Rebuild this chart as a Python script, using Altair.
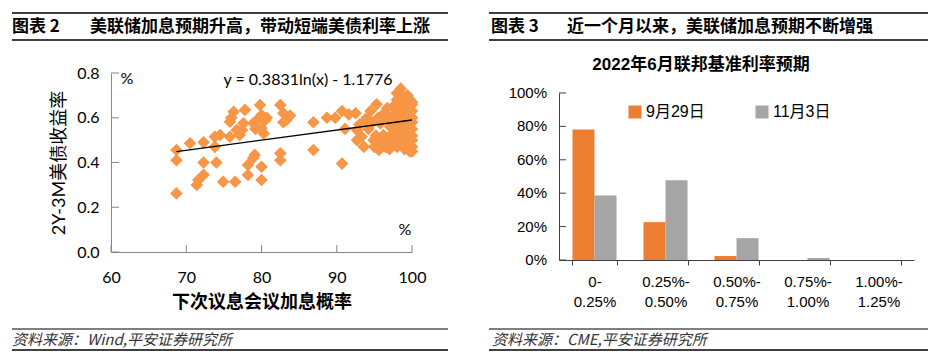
import altair as alt
import pandas as pd

# ---------------- data: left panel (scatter) ----------------
scatter_points = [
    (68.7, 0.456), (68.7, 0.41), (68.7, 0.262), (70.5, 0.486), (72.3, 0.49), (72.3, 0.40),
    (71.4, 0.30), (71.6, 0.322), (72.3, 0.345), (73.8, 0.515), (73.8, 0.47), (74.0, 0.40),
    (74.5, 0.523), (74.9, 0.314), (75.8, 0.515), (75.8, 0.582), (76.3, 0.627), (76.5, 0.314),
    (76.7, 0.545), (77.1, 0.523), (77.4, 0.545), (77.6, 0.575), (77.8, 0.635), (78.2, 0.389),
    (78.2, 0.344), (79.1, 0.434), (78.9, 0.42), (79.4, 0.59), (79.8, 0.657), (80.0, 0.612),
    (80.0, 0.553), (80.5, 0.59), (80.0, 0.381), (80.0, 0.322), (80.7, 0.60), (82.5, 0.657),
    (82.9, 0.62), (83.3, 0.59), (83.8, 0.61), (82.9, 0.58), (82.5, 0.441), (82.5, 0.41),
    (76.0, 0.60), (78.9, 0.575), (79.2, 0.55), (80.3, 0.53),
    (86.9, 0.58), (86.9, 0.456), (88.7, 0.60), (89.8, 0.60), (90.7, 0.63), (90.7, 0.395),
    (91.1, 0.55), (91.6, 0.615), (92.5, 0.62), (92.7, 0.545), (92.7, 0.50), (93.3, 0.515),
    (93.6, 0.47), (94.0, 0.60), (94.5, 0.63), (94.9, 0.50), (95.3, 0.66), (95.6, 0.456),
    (95.8, 0.575), (96.2, 0.523), (96.5, 0.47), (96.7, 0.643), (97.1, 0.56), (97.3, 0.47),
    (94.2, 0.55), (94.8, 0.58), (95.2, 0.52), (95.5, 0.60), (96.0, 0.49), (96.3, 0.62),
    (96.8, 0.51), (96.9, 0.59), (97.0, 0.46), (93.0, 0.57), (93.8, 0.59), (95.0, 0.47),
    (97.5, 0.50), (97.5, 0.53), (97.5, 0.58), (97.5, 0.61), (97.5, 0.65),
    (98.0, 0.47), (98.0, 0.52), (98.0, 0.55), (98.0, 0.60), (98.0, 0.63), (98.0, 0.68), (98.0, 0.71),
    (98.5, 0.49), (98.5, 0.54), (98.5, 0.57), (98.5, 0.62), (98.5, 0.66), (98.5, 0.70), (98.5, 0.73),
    (99.0, 0.46), (99.0, 0.50), (99.0, 0.53), (99.0, 0.56), (99.0, 0.59), (99.0, 0.64), (99.0, 0.67), (99.0, 0.69),
    (99.4, 0.48), (99.4, 0.52), (99.4, 0.55), (99.4, 0.58), (99.4, 0.61), (99.4, 0.63), (99.4, 0.66), (99.4, 0.70),
    (99.7, 0.45), (99.7, 0.49), (99.7, 0.51), (99.7, 0.54), (99.7, 0.57), (99.7, 0.60), (99.7, 0.62), (99.7, 0.65), (99.7, 0.68),
    (100.0, 0.45), (100.0, 0.47), (100.0, 0.50), (100.0, 0.52), (100.0, 0.55), (100.0, 0.58), (100.0, 0.60),
    (100.0, 0.63), (100.0, 0.66), (100.0, 0.67),
]
trend_x = [68.7, 100.0]
trend_y = [0.449, 0.590]
sc_xticks = [60, 70, 80, 90, 100]
sc_yticks = [0.0, 0.2, 0.4, 0.6, 0.8]

# ---------------- data: right panel (bars) ----------------
rate_bins = ["0-0.25%", "0.25%-0.50%", "0.50%-0.75%", "0.75%-1.00%", "1.00%-1.25%"]
series_names = ["9月29日", "11月3日"]
prob_sep29 = [0.781, 0.227, 0.024, 0.0, 0.0]
prob_nov3 = [0.386, 0.478, 0.131, 0.012, 0.0]
bar_yticks = [0.0, 0.2, 0.4, 0.6, 0.8, 1.0]

CJK = "Noto Sans CJK SC"
LAT = "Lato, Noto Sans CJK SC"
ARIAL = "Liberation Sans, Noto Sans CJK SC"

W1, H1 = 301, 179
W2, H2 = 355, 187
BAR_TOP = 20  # 100% line sits below the panel origin

one = pd.DataFrame({"a": [0]})


def hrule(x1, x2, y, w=1.5):
    return alt.Chart(one).mark_rule(color="black", strokeWidth=w).encode(
        x=alt.value(x1), x2=alt.value(x2), y=alt.value(y))


def label(t, x, y, size, font, weight="normal", style="normal", align="left", color="black"):
    return alt.Chart(pd.DataFrame({"t": [t]})).mark_text(
        align=align, baseline="middle", fontSize=size, font=font,
        fontWeight=weight, fontStyle=style, color=color).encode(
        text="t:N", x=alt.value(x), y=alt.value(y))


# ---------------- left panel ----------------
sc_df = pd.DataFrame(scatter_points, columns=["x", "y"])
tr_df = pd.DataFrame({"x": trend_x, "y": trend_y})
GRAY = "#868686"

pts = alt.Chart(sc_df).mark_point(
    shape="diamond", filled=True, size=160, color="#F79646", opacity=1, strokeWidth=0
).encode(
    x=alt.X("x:Q", scale=alt.Scale(domain=[60, 100], nice=False, zero=False),
            axis=alt.Axis(values=sc_xticks, title="下次议息会议加息概率", tickSize=0,
                          labelPadding=17, domainColor=GRAY, labelFont=LAT, labelFontSize=16,
                          labelColor="black", titleFont=CJK, titleFontSize=18,
                          titleFontWeight="bold", titleColor="black", titlePadding=8,
                          grid=False, labelFlush=False, labelOverlap=False)),
    y=alt.Y("y:Q", scale=alt.Scale(domain=[0, 0.8], nice=False),
            axis=alt.Axis(values=sc_yticks, format=".1f", title="2Y-3M美债收益率", tickSize=0,
                          labelPadding=12, domainColor=GRAY, labelFont=LAT, labelFontSize=16,
                          labelColor="black", titleFont=LAT, titleFontSize=18,
                          titleFontWeight="normal", titleColor="black", titlePadding=8,
                          grid=False, labelOverlap=False)),
)
trend = alt.Chart(tr_df).mark_line(color="black", strokeWidth=1.3).encode(x="x:Q", y="y:Q")
xt = alt.Chart(pd.DataFrame({"x": sc_xticks})).mark_rule(color=GRAY).encode(
    x="x:Q", y=alt.value(H1), y2=alt.value(H1 - 7))
yt = alt.Chart(pd.DataFrame({"y": sc_yticks})).mark_rule(color=GRAY).encode(
    y="y:Q", x=alt.value(0), x2=alt.value(8))

left = alt.layer(
    pts, trend, xt, yt,
    hrule(-99, 337, -60), hrule(-99, 337, -33),
    label("图表 2", -99, -46, 17, CJK, weight="bold"),
    label("美联储加息预期升高，带动短端美债利率上涨", -21, -46, 17, CJK, weight="bold"),
    label("%", 16, 6, 16, LAT, align="center"),
    label("%", 294, 157, 16, LAT, align="center"),
    label("y = 0.3831ln(x) - 1.1776", 197, 7, 16, LAT, align="center"),
    hrule(-99, 337, 256, 1.2), hrule(-99, 337, 277, 1.5),
    label("资料来源：Wind,平安证券研究所", -99, 267, 15, CJK, style="italic", color="#333333"),
).properties(width=W1, height=H1)

# ---------------- right panel ----------------
bar_df = pd.DataFrame({
    "bin": rate_bins * 2,
    "series": [s for s in series_names for _ in rate_bins],
    "p": prob_sep29 + prob_nov3,
})
AX = "#404040"
yscale = alt.Scale(domain=[0, 1], nice=False, range=[H2, BAR_TOP])
bars = alt.Chart(bar_df).mark_bar().encode(
    x=alt.X("bin:N", sort=rate_bins,
            scale=alt.Scale(paddingInner=0.38, paddingOuter=0.19),
            axis=alt.Axis(title=None, labelAngle=0, tickBand="extent", tickSize=5,
                          domainColor=AX, tickColor=AX, labelFont=ARIAL, labelFontSize=15,
                          labelLineHeight=20, labelPadding=9, labelColor="black",
                          labelBaseline="top", labelOverlap=False,
                          labelExpr="[slice(datum.label, 0, indexof(datum.label, '-') + 1), "
                                    "slice(datum.label, indexof(datum.label, '-') + 1)]")),
    xOffset=alt.XOffset("series:N", sort=series_names),
    y=alt.Y("p:Q", scale=yscale,
            axis=alt.Axis(values=bar_yticks, title=None, ticks=False, labels=False,
                          domainColor=AX, grid=False)),
    color=alt.Color("series:N", sort=series_names,
                    scale=alt.Scale(domain=series_names, range=["#ED7D31", "#A5A5A5"]),
                    legend=alt.Legend(orient="none", legendX=68, legendY=31,
                                      direction="horizontal", title=None, symbolType="square",
                                      symbolSize=169, symbolStrokeWidth=0, labelFont=ARIAL,
                                      labelFontSize=16, labelColor="black", labelOffset=3,
                                      columnPadding=49, padding=0, symbolOpacity=1)),
)
tick_df = pd.DataFrame({"p": bar_yticks})
byt = alt.Chart(tick_df).mark_rule(color=AX).encode(
    y="p:Q", x=alt.value(0), x2=alt.value(7))
byl = alt.Chart(tick_df).mark_text(
    align="right", baseline="middle", font=ARIAL, fontSize=15, color="black"
).encode(y="p:Q", x=alt.value(-12), text=alt.Text("p:Q", format=".0%"))

right = alt.layer(
    bars, byt, byl,
    hrule(-70, 369, -60), hrule(-70, 369, -33),
    label("图表 3", -68, -46, 17, CJK, weight="bold"),
    label("近一个月以来，美联储加息预期不断增强", 8, -46, 17, CJK, weight="bold"),
    label("2022年6月联邦基准利率预期", 142, -8, 17, ARIAL, weight="bold", align="center"),
    hrule(-70, 369, 256, 1.2), hrule(-70, 369, 277, 1.5),
    label("资料来源：CME,平安证券研究所", -67, 267, 15, CJK, style="italic", color="#333333"),
).properties(width=W2, height=H2)

chart = alt.hconcat(left, right, spacing=39).resolve_scale(
    color="independent"
).resolve_legend(color="independent").properties(
    padding={"left": 3, "top": 4, "right": 5, "bottom": 5}, background="white"
).configure_view(stroke=None).configure_axis(grid=False)

chart.save("out.html", embed_options={"renderer": "svg", "actions": False})
